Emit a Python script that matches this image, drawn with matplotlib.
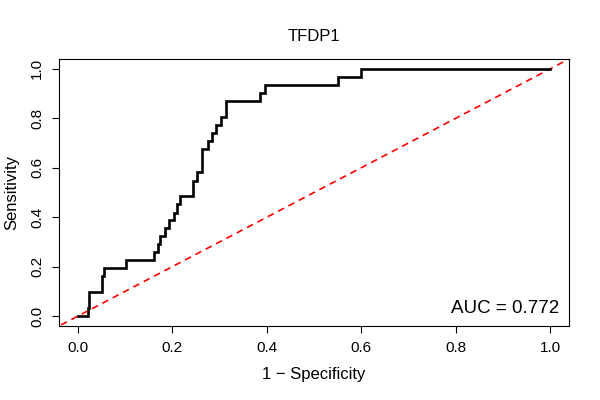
import matplotlib
matplotlib.use("Agg")
import matplotlib.pyplot as plt

# ROC steps (1 - specificity, sensitivity)
fpr = [0.0, 0.021, 0.021, 0.023, 0.023, 0.052, 0.052, 0.055, 0.055, 0.102, 0.102,
       0.162, 0.162, 0.169, 0.169, 0.174, 0.174, 0.185, 0.185, 0.192, 0.192,
       0.203, 0.203, 0.209, 0.209, 0.216, 0.216, 0.244, 0.244, 0.252, 0.252,
       0.263, 0.263, 0.276, 0.276, 0.284, 0.284, 0.293, 0.293, 0.304, 0.304,
       0.313, 0.313, 0.385, 0.385, 0.396, 0.396, 0.55, 0.55, 0.6, 0.6, 1.0]
tpr = [0.0, 0.0, 0.032, 0.032, 0.097, 0.097, 0.161, 0.161, 0.194, 0.194, 0.226,
       0.226, 0.258, 0.258, 0.290, 0.290, 0.323, 0.323, 0.355, 0.355, 0.387,
       0.387, 0.419, 0.419, 0.452, 0.452, 0.484, 0.484, 0.548, 0.548, 0.581,
       0.581, 0.677, 0.677, 0.710, 0.710, 0.742, 0.742, 0.774, 0.774, 0.806,
       0.806, 0.871, 0.871, 0.903, 0.903, 0.935, 0.935, 0.968, 0.968, 1.0, 1.0]
title = "TFDP1"
auc_text = "AUC = 0.772"
ticks = [0.0, 0.2, 0.4, 0.6, 0.8, 1.0]

plt.rcParams['font.family'] = ['Liberation Sans', 'DejaVu Sans']

fig = plt.figure(figsize=(6, 4), dpi=100)
ax = fig.add_axes([0.0983, 0.185, 0.85, 0.6675])

ax.plot([-1, 2], [-1, 2], color='red', lw=1.2, dashes=(4, 3))
ax.plot(fpr, tpr, color='black', lw=1.9, solid_joinstyle='miter')

ax.set_xlim(-0.04, 1.04)
ax.set_ylim(-0.04, 1.04)
ax.set_xticks(ticks)
ax.set_yticks(ticks)
ax.set_xticklabels(["%.1f" % t for t in ticks], fontsize=11)
ax.set_yticklabels(["%.1f" % t for t in ticks], fontsize=11, rotation=90, va='center')
ax.tick_params(direction='out', length=5.3, width=0.8, pad=5.5)
for s in ax.spines.values():
    s.set_linewidth(0.8)

ax.set_title(title, fontsize=12, pad=13)
ax.set_xlabel("1 \u2212 Specificity", fontsize=12, labelpad=9)
ax.set_ylabel("Sensitivity", fontsize=12, labelpad=8)
ax.text(1.02, 0.012, auc_text, fontsize=13.5, ha='right', va='baseline')

fig.savefig("out.png", dpi=100)
